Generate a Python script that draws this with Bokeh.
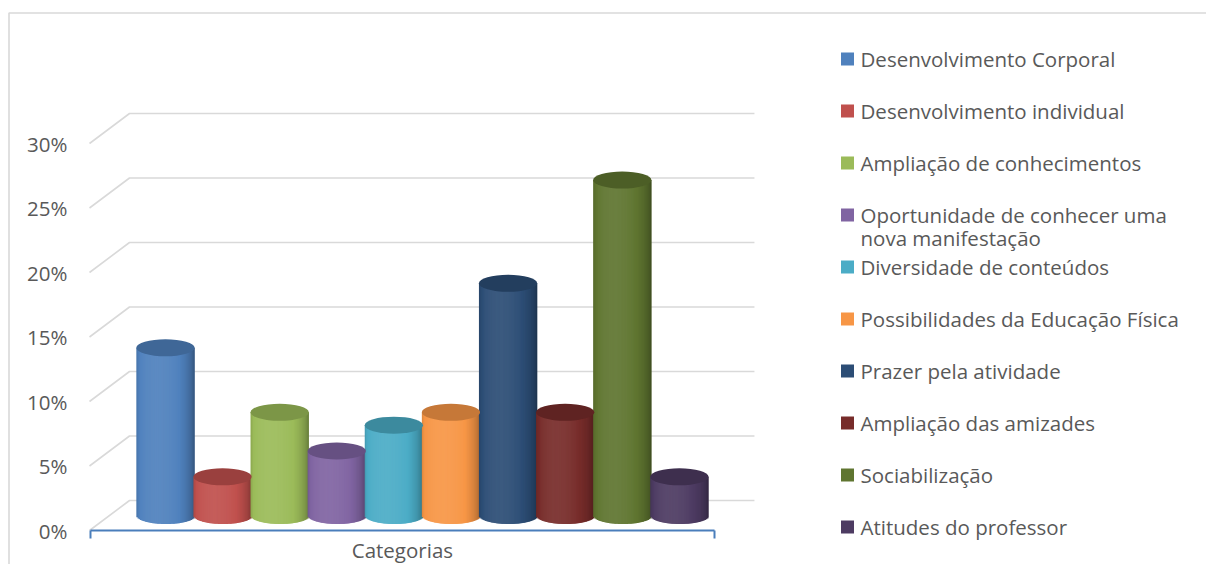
import numpy as np
from bokeh.plotting import figure
from bokeh.models import Range1d, FixedTicker, NumeralTickFormatter
from bokeh.core.properties import value
from bokeh.embed import file_html
from bokeh.resources import INLINE

# ---------------- data ----------------
categories = [
    "Desenvolvimento Corporal",
    "Desenvolvimento individual",
    "Ampliação de conhecimentos",
    "Oportunidade de conhecer uma\nnova manifestação",
    "Diversidade de conteúdos",
    "Possibilidades da Educação Física",
    "Prazer pela atividade",
    "Ampliação das amizades",
    "Sociabilização",
    "Atitudes do professor",
]
values = [0.13, 0.03, 0.08, 0.05, 0.07, 0.08, 0.18, 0.08, 0.26, 0.03]
colors = ["#4F81BD", "#C0504D", "#9BBB59", "#8064A2", "#4BACC6",
          "#F79646", "#2C4D75", "#772C2A", "#5F7530", "#4D3B62"]
y_ticks = [0.0, 0.05, 0.10, 0.15, 0.20, 0.25, 0.30]
axis_category = "Categorias"

# ---------------- layout / style ----------------
W, H = 1206, 564
AXIS_PX_X, AXIS_PX_Y = 89, 530   # front-left corner of the floor (canvas px)
PX_X = 57.1          # px per series slot
PX_Y = 1290.0        # px per 1.0 (100%)
FONT = "Open Sans"
FS = "20.5px"
TXT = "#595959"
GRID = "#D9D9D9"
AXIS_BLUE = "#4A7EBB"

x_front_left = -5.48
x_start = x_front_left - AXIS_PX_X / PX_X
x_end = x_start + W / PX_X
y_start = -(H - AXIS_PX_Y) / PX_Y
y_end = AXIS_PX_Y / PX_Y


def xd(px):
    return x_start + px / PX_X


def yd(py):
    return (AXIS_PX_Y - py) / PX_Y


n = len(values)
floor_half = 5.465
ddx = 40 / PX_X      # depth offset (back wall)
ddy = 30 / PX_Y
ell_b = 8.5 / PX_Y   # semi-minor axis of cylinder ellipses
radius = 0.51


def shade(hexc, f):
    c = [int(hexc[i:i + 2], 16) for i in (1, 3, 5)]
    if f <= 1:
        c = [int(round(v * f)) for v in c]
    else:
        c = [int(round(v + (255 - v) * (f - 1) * 0.6)) for v in c]
    c = [max(0, min(255, v)) for v in c]
    return "#%02x%02x%02x" % tuple(c)


p = figure(width=W, height=H, output_backend="svg", toolbar_location=None,
           x_range=Range1d(x_start, x_end), y_range=Range1d(y_start, y_end),
           min_border_left=0, min_border_right=0,
           min_border_top=0, min_border_bottom=0)
p.outline_line_color = None
p.grid.visible = False
p.background_fill_color = "white"
p.border_fill_color = "white"

# outer chart border (left and top edges visible)
p.line(x=[xd(8.5), xd(8.5), xd(W + 5)], y=[yd(H + 5), yd(12.5), yd(12.5)],
       line_color=GRID, line_width=1.6)

# back-wall / floor gridlines
gx, gy = [], []
for t in y_ticks:
    gx.append([x_front_left, x_front_left + ddx, floor_half + ddx])
    gy.append([t, t + ddy, t + ddy])
p.multi_line(gx, gy, line_color=GRID, line_width=1.6)

# cylinders (vertical shaded strips + top ellipse)
NS = 48
edges = np.linspace(-1, 1, NS + 1)
mids = (edges[:-1] + edges[1:]) / 2
theta = np.arcsin(mids)
fac = 0.72 + 0.40 * np.cos(theta + 0.3)
L, R, B, T, C = [], [], [], [], []
ex, ey, ec = [], [], []
for i, (v, col) in enumerate(zip(values, colors)):
    cx = (i - (n - 1) / 2) + ddx / 2
    base = ddy / 2
    top = v + ddy / 2
    for j in range(NS):
        L.append(cx + edges[j] * radius)
        R.append(cx + min(edges[j + 1] + 2.0 / NS, 1.0) * radius)
        B.append(base - ell_b * np.sqrt(max(0.0, 1 - mids[j] ** 2)))
        T.append(top)
        C.append(shade(col, fac[j]))
    ex.append(cx)
    ey.append(top)
    ec.append(shade(col, 0.80))
p.quad(left=L, right=R, bottom=B, top=T, fill_color=C, line_color=None)
p.ellipse(x=ex, y=ey, width=2 * radius, height=2 * ell_b,
          fill_color=ec, line_color=None)

# legend
sq_y, tx_x, tx_y, tx = [], [], [], []
for i, name in enumerate(categories):
    yc = yd(58.5 + 52 * i)
    sq_y.append(yc)
    for k, line in enumerate(name.split("\n")):
        tx_x.append(xd(860))
        tx_y.append(yc - k * 23 / PX_Y)
        tx.append(line)
p.scatter(x=[xd(847)] * n, y=sq_y, marker="square", size=13,
          fill_color=colors, line_color=None)
p.text(x=tx_x, y=tx_y, text=tx, text_font=value(FONT), text_font_size=FS,
       text_color=TXT, text_baseline="middle", text_align="left")

# y axis (front plane)
p.yaxis.fixed_location = x_front_left
p.yaxis.ticker = FixedTicker(ticks=y_ticks)
p.yaxis.formatter = NumeralTickFormatter(format="0%")
p.yaxis.axis_line_color = None
p.yaxis.major_tick_line_color = None
p.yaxis.minor_tick_line_color = None
p.yaxis.major_tick_out = 0
p.yaxis.major_label_standoff = 22
p.yaxis.major_label_text_font = FONT
p.yaxis.major_label_text_font_size = FS
p.yaxis.major_label_text_color = TXT

# x axis (single category)
p.xaxis.fixed_location = 0.0
p.xaxis.ticker = FixedTicker(ticks=[0], minor_ticks=[-floor_half, floor_half])
p.xaxis.bounds = (-floor_half - 0.001, floor_half + 0.001)
p.xaxis.major_label_overrides = {0: axis_category}
p.xaxis.axis_line_color = AXIS_BLUE
p.xaxis.axis_line_width = 2
p.xaxis.major_tick_line_color = None
p.xaxis.major_tick_out = 0
p.xaxis.minor_tick_line_color = AXIS_BLUE
p.xaxis.minor_tick_line_width = 2
p.xaxis.minor_tick_in = 0
p.xaxis.minor_tick_out = 8
p.xaxis.major_label_standoff = -3
p.xaxis.major_label_text_font = FONT
p.xaxis.major_label_text_font_size = FS
p.xaxis.major_label_text_color = TXT

open("out.html", "w").write(file_html(p, INLINE))
